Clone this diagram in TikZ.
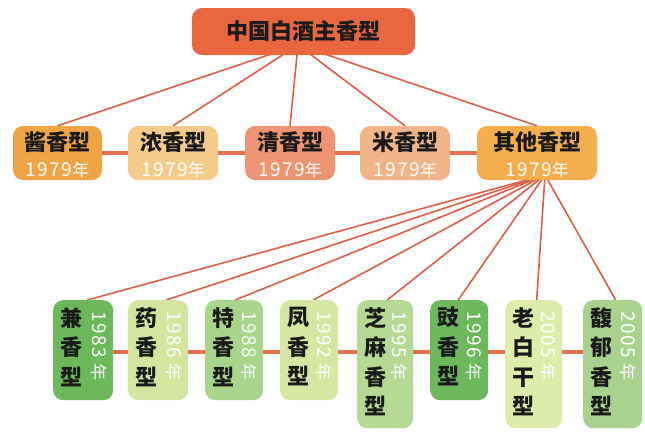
\documentclass[tikz,border=0pt]{standalone}
\usepackage{fontspec}
\newfontfamily\cjk{Noto Sans CJK SC}
\newfontfamily\cjkwide{Noto Sans CJK SC}[LetterSpace=8]
\usetikzlibrary{calc}
\pgfdeclarelayer{background}
\pgfdeclarelayer{paper}
\pgfsetlayers{paper,background,main}
\definecolor{topc}{HTML}{E9673F}
\definecolor{linec}{HTML}{DD5F47}
\definecolor{hconc}{HTML}{E66F4F}
\definecolor{cA}{HTML}{EFA445}
\definecolor{cB}{HTML}{F5CB8C}
\definecolor{cC}{HTML}{EE9472}
\definecolor{cD}{HTML}{F2B489}
\definecolor{cE}{HTML}{F4AE4E}
\definecolor{g1}{HTML}{6DB85A}
\definecolor{g2}{HTML}{D3E59E}
\definecolor{g3}{HTML}{A8D48C}
\definecolor{g4}{HTML}{D6E7A4}
\definecolor{g5}{HTML}{B6DA95}
\definecolor{g6}{HTML}{6DB75C}
\definecolor{g7}{HTML}{DDECAA}
\definecolor{g8}{HTML}{A9D28F}
\definecolor{txt}{HTML}{1A1A1A}
\tikzset{
  box/.style={rectangle, rounded corners=10pt, draw=none, inner sep=0pt},
  fan/.style={draw=linec, line width=1.6pt},
  hcon/.style={draw=hconc, line width=4pt},
  nametxt/.style={inner sep=0pt, text=txt, font=\cjk\bfseries\fontsize{22}{24}\selectfont},
  yeartxt/.style={inner sep=0pt, text=white, font=\cjkwide\fontsize{19}{21}\selectfont},
  colname/.style={inner sep=0pt, text=txt, align=center, anchor=north, font=\cjk\bfseries\fontsize{22}{29.5}\selectfont},
  colyear/.style={inner sep=0pt, text=white, rotate=-90, anchor=west, font=\cjkwide\fontsize{19}{21}\selectfont},
}
\newcommand\mkltwo[5]{%
  \node[box, fill=#4, minimum width=#3pt, minimum height=54pt] (#1) at (#2,153) {};
  \node[nametxt] at (#2,142) {#5};
  \node[yeartxt] at (#2,170) {1979{\fontsize{17}{18}\selectfont 年}};
}
\newcommand\mklthree[7]{% id, left, width, height, color, chars, year
  \node[box, fill=#5, minimum width=#3pt, minimum height=#4pt, anchor=north west] (#1) at (#2,300) {};
  \node[colname] at ($(#1.north west)+(18,7)$) {#6};
  \node[colyear] at ($(#1.north east)+(-14,11)$) {#7{\fontsize{17}{18}\selectfont\ 年}};
}
\begin{document}
\begin{tikzpicture}[x=1pt, y=-1pt]
\useasboundingbox (0,0) rectangle (645,432);
\begin{pgfonlayer}{paper}
\fill[white] (0,0) rectangle (645,432);
\end{pgfonlayer}

\node[box, fill=topc, minimum width=223pt, minimum height=47pt] (top) at (303.5,31.5) {};
\node[nametxt] at (303.5,31.5) {中国白酒主香型};

\mkltwo{a1}{57.5}{89}{cA}{酱香型}
\mkltwo{a2}{173}{90}{cB}{浓香型}
\mkltwo{a3}{290}{90}{cC}{清香型}
\mkltwo{a4}{405}{90}{cD}{米香型}
\mkltwo{a5}{537}{120}{cE}{其他香型}

\mklthree{b1}{53}{60}{100}{g1}{兼\\香\\型}{1983}
\mklthree{b2}{128}{60}{100}{g2}{药\\香\\型}{1986}
\mklthree{b3}{205}{58}{100}{g3}{特\\香\\型}{1988}
\mklthree{b4}{280}{58}{100}{g4}{凤\\香\\型}{1992}
\mklthree{b5}{357}{56}{128}{g5}{芝\\麻\\香\\型}{1995}
\mklthree{b6}{430}{58}{100}{g6}{豉\\香\\型}{1996}
\mklthree{b7}{505}{57}{128}{g7}{老\\白\\干\\型}{2005}
\mklthree{b8}{583}{59}{128}{g8}{馥\\郁\\香\\型}{2005}

\coordinate (c1) at (298,45);
\coordinate (c2) at (545,175);
\coordinate (h3) at (0,352);

\begin{pgfonlayer}{background}
  \foreach \n in {a1,a2,a3,a4,a5} \draw[fan] (c1) -- (\n.north);
  \foreach \n/\dx in {b1/4,b2/8,b3/1,b4/4,b5/2,b6/-1,b7/3,b8/3} \draw[fan] (c2) -- ($(\n.north)+(\dx,0)$);
  \draw[hcon] (a1) -- (a2);
  \draw[hcon] (a2) -- (a3);
  \draw[hcon] (a3) -- (a4);
  \draw[hcon] (a4) -- (a5);
  \draw[hcon] (b1.east |- h3) -- (b2.west |- h3);
  \draw[hcon] (b2.east |- h3) -- (b3.west |- h3);
  \draw[hcon] (b3.east |- h3) -- (b4.west |- h3);
  \draw[hcon] (b4.east |- h3) -- (b5.west |- h3);
  \draw[hcon] (b5.east |- h3) -- (b6.west |- h3);
  \draw[hcon] (b6.east |- h3) -- (b7.west |- h3);
  \draw[hcon] (b7.east |- h3) -- (b8.west |- h3);
\end{pgfonlayer}
\end{tikzpicture}
\end{document}
